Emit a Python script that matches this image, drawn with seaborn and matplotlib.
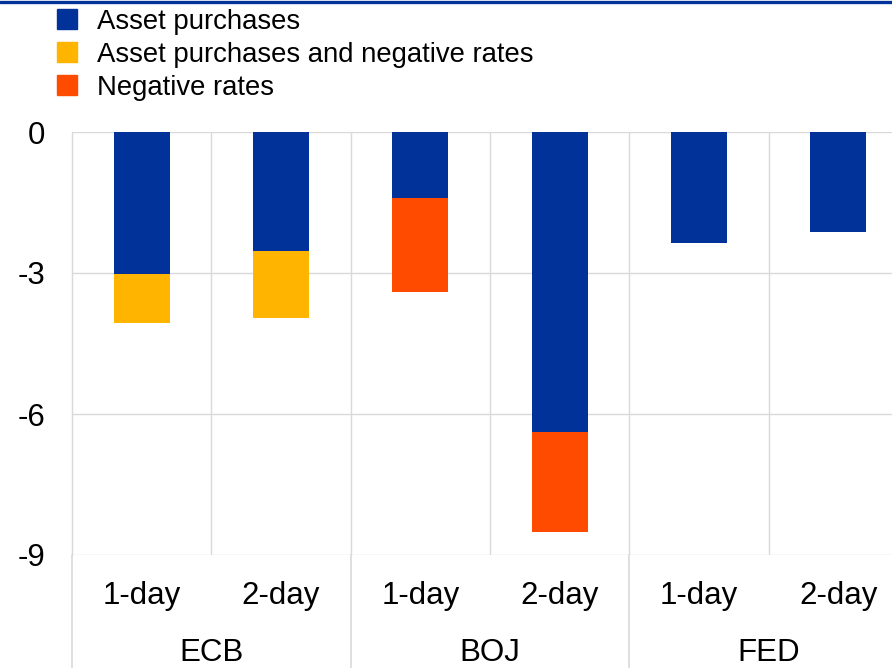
import matplotlib
matplotlib.use("Agg")
import matplotlib.pyplot as plt
import matplotlib.transforms as mtrans
from matplotlib.lines import Line2D
import seaborn as sns
import pandas as pd

# ---- data ----
banks = ["ECB", "ECB", "BOJ", "BOJ", "FED", "FED"]
horizons = ["1-day", "2-day", "1-day", "2-day", "1-day", "2-day"]
asset_purchases = [-3.02, -2.53, -1.40, -6.38, -2.36, -2.13]
asset_and_negative = [-1.05, -1.43, 0.0, 0.0, 0.0, 0.0]
negative_rates = [0.0, 0.0, -2.00, -2.12, 0.0, 0.0]
groups = ["ECB", "BOJ", "FED"]
yticks = [0, -3, -6, -9]
series_names = ["Asset purchases", "Asset purchases and negative rates", "Negative rates"]
colors = ["#003299", "#ffb400", "#ff4b00"]

keys = [f"{b} {h}" for b, h in zip(banks, horizons)]
df = pd.DataFrame({
    "key": keys,
    "ap": asset_purchases,
    "ap_an": [a + b for a, b in zip(asset_purchases, asset_and_negative)],
    "ap_nr": [a + b for a, b in zip(asset_purchases, negative_rates)],
})

sns.set_style("white")
plt.rcParams["font.family"] = ["Liberation Sans", "DejaVu Sans"]
plt.rcParams["text.color"] = "black"
plt.rcParams["ytick.color"] = "black"

W, H = 892, 668
fig = plt.figure(figsize=(W / 100, H / 100), dpi=100)
ax = fig.add_axes([72 / W, 113 / H, 836 / W, 423 / H])

common = dict(data=df, x="key", order=keys, width=0.4, saturation=1,
              linewidth=0, errorbar=None, ax=ax)
sns.barplot(y="ap_an", color=colors[1], **common)
sns.barplot(y="ap_nr", color=colors[2], **common)
sns.barplot(y="ap", color=colors[0], **common)

FS = 22.5
ax.set_xlim(-0.5, 5.5)
ax.set_ylim(-9, 0)
ax.set_xlabel("")
ax.set_ylabel("")
ax.set_yticks(yticks)
ax.set_yticklabels([str(v) for v in yticks], fontsize=FS, color="black")
ax.tick_params(axis="y", length=0, pad=19)
ax.set_xticks([])
ax.yaxis.grid(True, color="#d9d9d9", lw=1)
ax.set_axisbelow(True)
for s in ["top", "right", "bottom"]:
    ax.spines[s].set_visible(False)
ax.spines["left"].set_color("#d9d9d9")
ax.spines["left"].set_linewidth(1)

for xv in [0.5, 1.5, 2.5, 3.5, 4.5]:
    ax.plot([xv, xv], [-9, 0], color="#d9d9d9", lw=1, zorder=0)

# separators below axis between groups
trb = mtrans.blended_transform_factory(ax.transData, ax.transAxes)
for xv in [-0.5, 1.5, 3.5]:
    ax.plot([xv, xv], [0, -0.3], color="#d9d9d9", lw=1.2, transform=trb, clip_on=False)

trf = mtrans.blended_transform_factory(ax.transData, fig.transFigure)
for i, h in enumerate(horizons):
    ax.text(i, 1 - 596 / H, h, transform=trf, ha="center", va="center", fontsize=FS, color="black")
for g_i, g in enumerate(groups):
    ax.text(2 * g_i + 0.5, 1 - 653 / H, g, transform=trf, ha="center", va="center", fontsize=FS, color="black")

# top blue rule
fig.add_artist(Line2D([0, 1], [1 - 1.5 / H, 1 - 1.5 / H], transform=fig.transFigure,
                      color="#003299", lw=2.4))

LFS = 19.8
handles = [Line2D([], [], marker="s", linestyle="none", markersize=14.5,
                  markerfacecolor=c, markeredgecolor=c) for c in colors]
leg = fig.legend(handles, series_names, loc="upper left", bbox_to_anchor=(57 / W, 1 - 9 / H),
                 frameon=False, fontsize=LFS, handlelength=0.75, handletextpad=0.72,
                 borderaxespad=0, borderpad=0, labelspacing=0.25)
for t in leg.get_texts():
    t.set_color("black")

fig.savefig("out.png", dpi=100)
